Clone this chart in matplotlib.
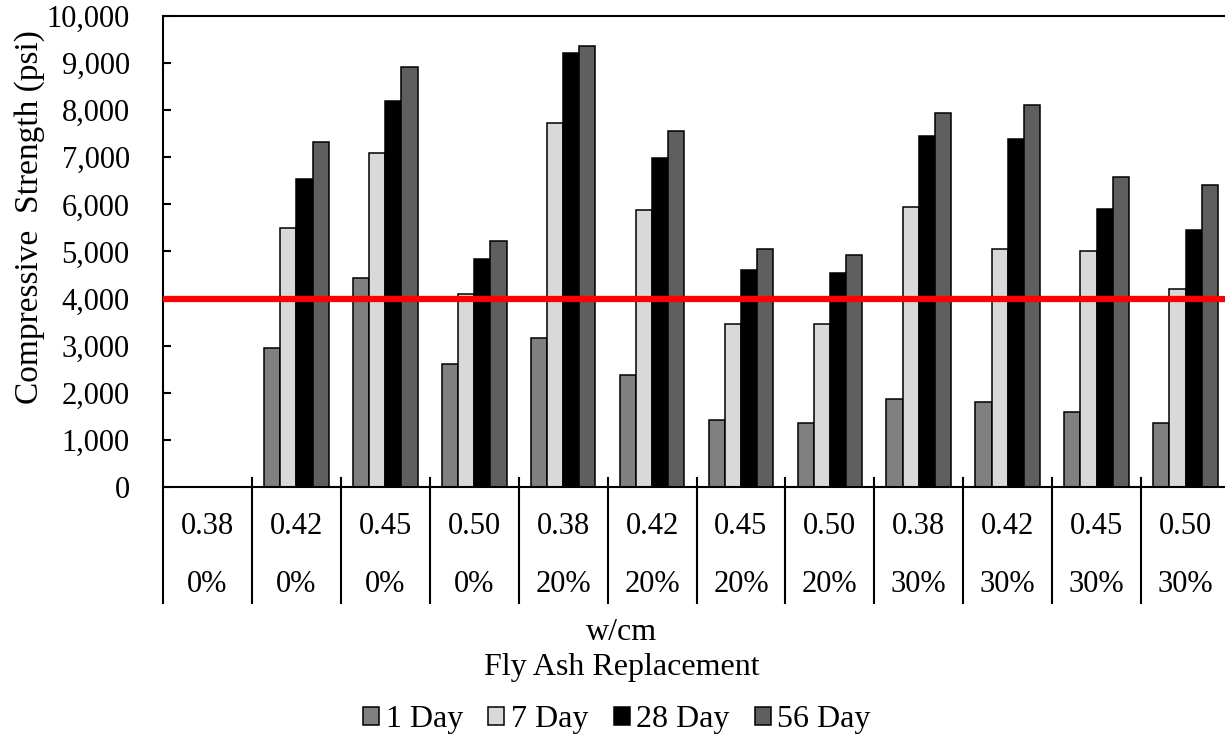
import matplotlib
matplotlib.use("Agg")
import matplotlib.pyplot as plt
import matplotlib.transforms as mtransforms
from matplotlib.ticker import FuncFormatter
import numpy as np

plt.rcParams['font.family'] = ['Liberation Serif', 'DejaVu Serif']

wcm = ["0.38", "0.42", "0.45", "0.50", "0.38", "0.42", "0.45", "0.50",
       "0.38", "0.42", "0.45", "0.50"]
fly_ash = ["0%", "0%", "0%", "0%", "20%", "20%", "20%", "20%",
           "30%", "30%", "30%", "30%"]
series_names = ["1 Day", "7 Day", "28 Day", "56 Day"]
day1 = [np.nan, 2950, 4440, 2610, 3170, 2370, 1420, 1360, 1870, 1810, 1590, 1360]
day7 = [np.nan, 5500, 7100, 4100, 7720, 5890, 3470, 3470, 5950, 5050, 5000, 4200]
day28 = [np.nan, 6540, 8200, 4840, 9210, 6990, 4600, 4540, 7450, 7390, 5910, 5460]
day56 = [np.nan, 7320, 8920, 5220, 9370, 7550, 5050, 4930, 7940, 8120, 6580, 6420]
target = 4000
colors = ["#808080", "#d9d9d9", "#000000", "#5f5f5f"]

fig = plt.figure(figsize=(12.25, 7.42), dpi=100)
W, H = 1225, 742
left, right, top, bottom = 163, 1230, 16, 487
ax = fig.add_axes([left / W, 1 - bottom / H, (right - left) / W, (bottom - top) / H])

n = len(wcm)
x = np.arange(n) + 0.5
bw = 0.182
data = [day1, day7, day28, day56]
for k, (vals, c, name) in enumerate(zip(data, colors, series_names)):
    ax.bar(x + (k - 1.5) * bw, vals, width=bw, color=c, edgecolor="black",
           linewidth=1.1, label=name, zorder=2)

ax.axhline(target, color="#ff0000", linewidth=4.5, zorder=3)

ax.set_xlim(0, n)
ax.set_ylim(0, 10000)
ax.set_yticks(np.arange(0, 10001, 1000))
ax.yaxis.set_major_formatter(FuncFormatter(lambda v, p: f"{int(v):,}"))
ax.tick_params(axis="y", direction="in", length=6, width=1.5, labelsize=22, pad=24)
ax.set_xticks([])
for s in ["left", "bottom", "top"]:
    ax.spines[s].set_linewidth(1.5)
ax.spines["right"].set_visible(False)

trans = mtransforms.blended_transform_factory(ax.transData, ax.transAxes)
axh = bottom - top
y_low = -(603 - bottom) / axh
y_up = 9 / axh
for i in range(n):
    ytop = 0 if i == 0 else y_up
    ax.plot([i, i], [ytop, y_low], color="black", linewidth=1.5,
            transform=trans, clip_on=False, zorder=4)
    ax.text(i + 0.5, -(527 - bottom) / axh, wcm[i], transform=trans,
            ha="center", va="center", fontsize=22)
    ax.text(i + 0.5, -(585 - bottom) / axh, fly_ash[i], transform=trans,
            ha="center", va="center", fontsize=22)

fig.text(30 / W, 1 - 217 / H, "Compressive  Strength (psi)", rotation=90,
         ha="center", va="center", fontsize=24)
fig.text(622 / W, 1 - 632 / H, "w/cm", ha="center", va="center", fontsize=23)
fig.text(622 / W, 1 - 668 / H, "Fly Ash Replacement", ha="center", va="center", fontsize=23)

fig.legend(loc="center", bbox_to_anchor=(617 / W, 1 - 720 / H), ncol=4,
           frameon=False, fontsize=23, handlelength=0.5, handleheight=0.5,
           handletextpad=0.2, columnspacing=0.8, borderaxespad=0)

fig.savefig("out.png", dpi=100)
